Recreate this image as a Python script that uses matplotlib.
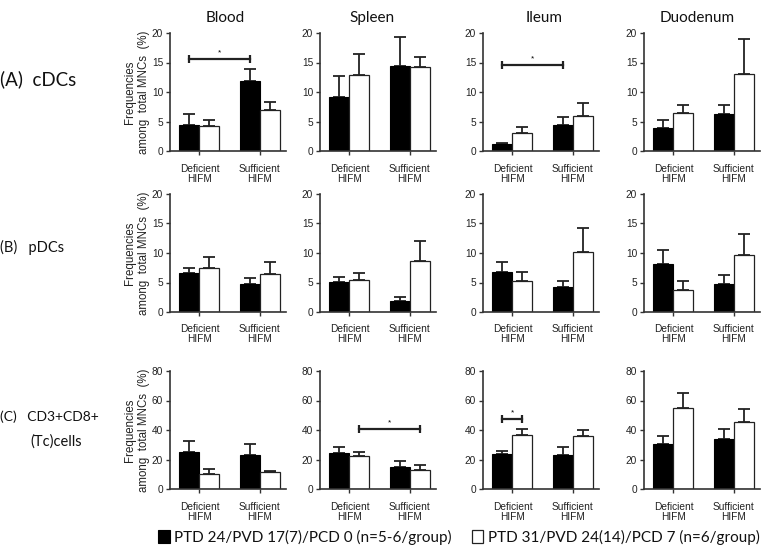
import matplotlib
matplotlib.use("Agg")
import matplotlib.pyplot as plt
import numpy as np

# ---------------- data ----------------
tissues = ["Blood", "Spleen", "Ileum", "Duodenum"]
groups = ["Deficient\nHIFM", "Sufficient\nHIFM"]
series_names = ["PTD 24/PVD 17(7)/PCD 0 (n=5-6/group)", "PTD 31/PVD 24(14)/PCD 7 (n=6/group)"]
ymax_rows = [20, 20, 80]
yticks_rows = [[0, 5, 10, 15, 20], [0, 5, 10, 15, 20], [0, 20, 40, 60, 80]]

# means [tissue] -> [deficient, sufficient]
cdc_d17 = [[4.4, 11.8], [9.2, 14.4], [1.2, 4.4], [3.9, 6.2]]
cdc_d17_sem = [[1.9, 2.1], [3.5, 5.0], [0.2, 1.3], [1.4, 1.6]]
cdc_d24 = [[4.3, 7.0], [12.8, 14.2], [3.0, 6.0], [6.4, 13.0]]
cdc_d24_sem = [[0.9, 1.3], [3.6, 1.8], [1.0, 2.1], [1.4, 6.0]]

pdc_d17 = [[6.6, 4.8], [5.1, 1.9], [6.8, 4.3], [8.2, 4.8]]
pdc_d17_sem = [[0.8, 0.9], [0.8, 0.6], [1.6, 1.0], [2.3, 1.4]]
pdc_d24 = [[7.5, 6.5], [5.5, 8.6], [5.2, 10.2], [3.8, 9.6]]
pdc_d24_sem = [[1.8, 2.0], [1.1, 3.5], [1.6, 4.1], [1.5, 3.7]]

tc_d17 = [[25.3, 23.3], [24.2, 15.1], [23.7, 23.0], [30.5, 33.7]]
tc_d17_sem = [[7.2, 7.2], [4.5, 4.1], [2.3, 5.7], [5.4, 6.7]]
tc_d24 = [[10.0, 11.2], [22.6, 12.9], [36.3, 35.9], [55.1, 45.2]]
tc_d24_sem = [[3.4, 1.2], [2.7, 3.1], [4.1, 3.9], [9.8, 8.8]]

black_means = [cdc_d17, pdc_d17, tc_d17]
black_sems = [cdc_d17_sem, pdc_d17_sem, tc_d17_sem]
white_means = [cdc_d24, pdc_d24, tc_d24]
white_sems = [cdc_d24_sem, pdc_d24_sem, tc_d24_sem]

# significance brackets: (row, tissue, (group, series), (group, series), height)
sig_row = [0, 0, 2, 2]
sig_col = [0, 2, 1, 2]
sig_from = [(0, 0), (0, 0), (0, 1), (0, 0)]
sig_to = [(1, 0), (1, 0), (1, 1), (0, 1)]
sig_y = [15.6, 14.6, 40.4, 47.2]

# ---------------- layout ----------------
W, H = 765, 556
fig = plt.figure(figsize=(W / 100, H / 100), dpi=100)
col_left = [170, 320, 483, 644]
ax_w = 116
row_top = [33, 194, 371]
row_bot = [151, 312, 489]
title_x = [225, 372, 544, 697]

tick_font = "Liberation Sans"
label_font = ["Lato", "DejaVu Sans"]
spine_c = "#333333"
bw = 1 / 3.0

axes = {}
handles = None
for r in range(3):
    for c in range(4):
        l = col_left[c]
        ax = fig.add_axes([l / W, 1 - row_bot[r] / H, ax_w / W, (row_bot[r] - row_top[r]) / H])
        axes[(r, c)] = ax
        x = np.arange(2)
        b1 = ax.bar(x - bw / 2, black_means[r][c], width=bw, color="black",
                    edgecolor="black", linewidth=0.8, zorder=2)
        b2 = ax.bar(x + bw / 2, white_means[r][c], width=bw, color="white",
                    edgecolor="#222222", linewidth=0.9, zorder=2)
        if handles is None:
            handles = [b1, b2]
        ax.errorbar(x - bw / 2, black_means[r][c],
                    yerr=[np.zeros(2), black_sems[r][c]], fmt="none",
                    ecolor="#222222", elinewidth=1.3, capsize=4.5, capthick=1.3, zorder=1)
        ax.errorbar(x + bw / 2, white_means[r][c],
                    yerr=[np.zeros(2), white_sems[r][c]], fmt="none",
                    ecolor="#222222", elinewidth=1.3, capsize=4.5, capthick=1.3, zorder=1)
        ax.set_xlim(-0.49, 1.44)
        ax.set_ylim(0, ymax_rows[r])
        ax.set_yticks(yticks_rows[r])
        ax.set_xticks(x)
        ax.set_xticklabels(groups, fontsize=7.3, family=tick_font, linespacing=1.0)
        ax.tick_params(axis="y", labelsize=7.3, length=3, width=1.0, color=spine_c,
                       labelcolor="#222222", pad=2)
        ax.tick_params(axis="x", length=3, width=1.0, color=spine_c,
                       labelcolor="#222222", pad=6)
        for t in ax.get_yticklabels():
            t.set_family(tick_font)
        for s in ["top", "right"]:
            ax.spines[s].set_visible(False)
        for s in ["left", "bottom"]:
            ax.spines[s].set_color(spine_c)
            ax.spines[s].set_linewidth(1.2)
        if c == 0:
            ax.set_ylabel("Frequencies\namong  total MNCs  (%)", fontsize=8.3,
                          family=tick_font, linespacing=1.25, labelpad=1, color="#222222")
        if r == 0:
            fig.text(title_x[c] / W, 1 - 18 / H, tissues[c], ha="center", va="center",
                     fontsize=11, family=label_font, color="#111111")

for i in range(len(sig_y)):
    ax = axes[(sig_row[i], sig_col[i])]
    g1, s1 = sig_from[i]
    g2, s2 = sig_to[i]
    x1 = g1 + (s1 - 0.5) * bw
    x2 = g2 + (s2 - 0.5) * bw
    ax.plot([x1, x2], [sig_y[i], sig_y[i]], color="#222222", lw=1.6,
            marker="|", ms=6, mew=1.6, zorder=3)
    ax.annotate("*", ((x1 + x2) / 2, sig_y[i]), xytext=(0, 2),
                textcoords="offset points", ha="center", va="bottom", fontsize=6,
                family=tick_font)

# row labels
fig.text(0 / W, 1 - 79 / H, "(A)  cDCs", ha="left", va="center", fontsize=13.5,
         family=label_font, color="#111111")
fig.text(0 / W, 1 - 247 / H, "(B)   pDCs", ha="left", va="center", fontsize=10.5,
         family=label_font, color="#111111")
fig.text(0 / W, 1 - 417 / H, "(C)   CD3+CD8+", ha="left", va="center", fontsize=10,
         family=label_font, color="#111111")
fig.text(30 / W, 1 - 442 / H, "(Tc)cells", ha="left", va="center", fontsize=10.5,
         family=label_font, color="#111111")

leg = fig.legend(handles, series_names, loc="center", bbox_to_anchor=(459 / W, 1 - 537 / H),
                 ncol=2, frameon=False, handlelength=0.75, handleheight=0.9,
                 handletextpad=0.3, columnspacing=1.3,
                 prop={"family": label_font, "size": 11})
for t in leg.get_texts():
    t.set_color("#111111")

fig.savefig("out.png", dpi=100, facecolor="white")
